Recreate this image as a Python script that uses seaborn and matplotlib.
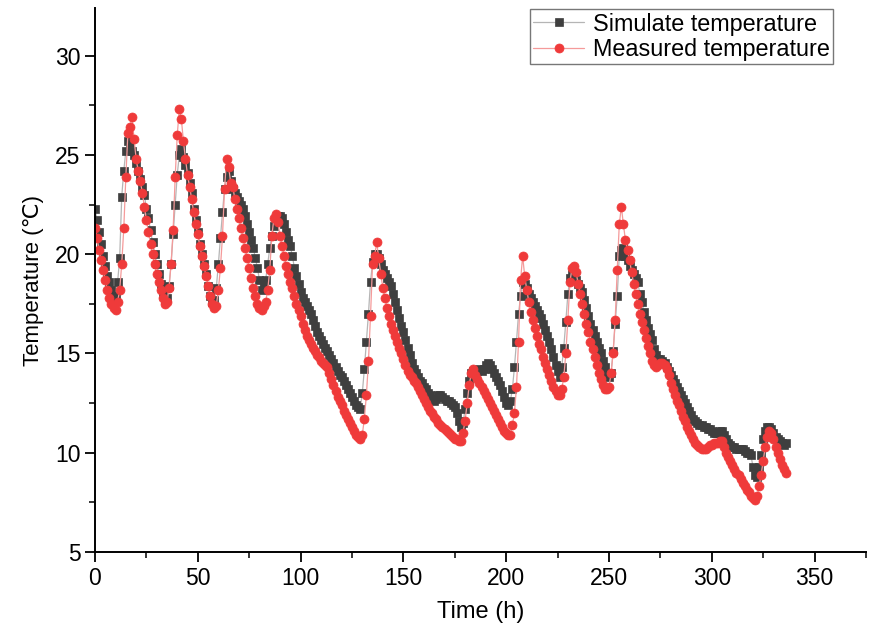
import numpy as np
import pandas as pd
import matplotlib
matplotlib.use("Agg")
import matplotlib.pyplot as plt
import seaborn as sns
from matplotlib.ticker import MultipleLocator

simulated = [
    22.3, 21.7, 21.1, 20.5, 19.9, 19.4, 18.9, 18.6, 18.2, 17.8,
    17.9, 18.6, 19.8, 22.9, 24.2, 25.2, 25.7, 25.6, 25.2, 25.0,
    24.6, 24.2, 23.8, 23.4, 23.0, 22.3, 21.8, 21.2, 20.6, 20.0,
    19.5, 19.0, 18.5, 18.0, 17.7, 17.8, 18.4, 19.5, 21.0, 22.5,
    24.0, 25.0, 25.3, 24.9, 24.5, 24.1, 23.6, 23.1, 22.3, 21.7,
    21.1, 20.5, 20.0, 19.5, 19.0, 18.4, 17.9, 17.6, 17.7, 18.3,
    19.5, 20.8, 22.1, 23.3, 23.9, 24.2, 23.7, 23.3, 23.1, 22.9,
    22.7, 22.5, 22.3, 21.9, 21.5, 21.1, 20.7, 20.3, 19.8, 19.3,
    18.7, 18.2, 18.4, 18.7, 19.5, 20.3, 20.9, 21.4, 21.8, 21.9,
    21.9, 21.8, 21.5, 21.1, 20.7, 20.4, 19.9, 19.3, 18.9, 18.5,
    18.1, 17.8, 17.6, 17.4, 17.2, 17.0, 16.7, 16.4, 16.1, 15.9,
    15.7, 15.5, 15.3, 15.1, 14.9, 14.7, 14.5, 14.3, 14.1, 13.9,
    13.8, 13.6, 13.4, 13.2, 13.0, 12.8, 12.6, 12.4, 12.3, 12.2,
    13.0, 14.2, 15.6, 17.0, 18.6, 19.6, 20.0, 20.0, 19.8, 19.5,
    19.2, 19.0, 18.8, 18.6, 18.4, 18.0, 17.6, 17.2, 16.8, 16.4,
    16.1, 15.7, 15.3, 14.9, 14.5, 14.2, 14.0, 13.8, 13.6, 13.5,
    13.3, 13.2, 13.0, 12.9, 12.7, 12.6, 12.7, 12.9, 12.9, 12.8,
    12.7, 12.6, 12.6, 12.5, 12.4, 12.3, 12.0, 11.6, 11.3, 11.5,
    12.2, 13.0, 13.6, 14.0, 14.1, 14.1, 14.1, 14.2, 14.1, 14.2,
    14.4, 14.5, 14.4, 14.2, 14.0, 13.8, 13.6, 13.4, 13.1, 12.8,
    12.5, 12.4, 12.6, 13.2, 14.3, 15.6, 17.0, 17.9, 18.6, 18.5,
    18.3, 18.0, 17.8, 17.6, 17.4, 17.2, 17.0, 16.8, 16.5, 16.2,
    15.9, 15.6, 15.2, 14.8, 14.4, 14.1, 13.8, 14.3, 15.3, 16.6,
    18.0, 18.8, 19.0, 19.0, 18.7, 18.5, 18.3, 18.1, 17.7, 17.3,
    16.9, 16.5, 16.2, 15.9, 15.6, 15.3, 15.0, 14.6, 14.3, 14.0,
    13.8, 14.0, 15.1, 16.5, 17.9, 19.9, 20.2, 20.3, 19.9, 19.7,
    19.4, 19.2, 19.0, 18.8, 18.6, 18.0, 17.6, 17.1, 16.7, 16.3,
    16.0, 15.7, 15.2, 14.9, 14.7, 14.7, 14.6, 14.5, 14.3, 14.1,
    13.9, 13.7, 13.5, 13.3, 13.1, 12.9, 12.7, 12.5, 12.3, 12.1,
    11.9, 11.7, 11.6, 11.5, 11.4, 11.4, 11.3, 11.3, 11.2, 11.2,
    11.1, 11.0, 11.0, 11.0, 11.1, 11.1, 10.9, 10.7, 10.5, 10.4,
    10.3, 10.3, 10.2, 10.2, 10.2, 10.2, 10.1, 10.0, 10.0, 9.9,
    9.3, 8.9, 8.8, 9.3, 9.9, 10.7, 11.1, 11.3, 11.3, 11.2,
    11.0, 10.8, 10.7, 10.6, 10.5, 10.4, 10.5,
]

measured = [
    21.3, 20.8, 20.2, 19.7, 19.2, 18.7, 18.2, 17.8, 17.5, 17.3,
    17.2, 17.6, 18.2, 19.5, 21.3, 23.9, 26.1, 26.4, 26.9, 25.8,
    24.8, 24.2, 23.7, 23.1, 22.4, 21.7, 21.1, 20.5, 20.0, 19.5,
    19.0, 18.6, 18.2, 17.8, 17.5, 17.6, 18.3, 19.5, 21.2, 23.9,
    26.0, 27.3, 26.8, 25.7, 24.8, 24.0, 23.4, 22.8, 22.1, 21.5,
    21.0, 20.4, 19.9, 19.4, 18.9, 18.4, 17.9, 17.5, 17.3, 17.4,
    18.2, 19.3, 20.9, 23.3, 24.8, 24.4, 23.6, 23.4, 22.8, 22.3,
    21.8, 21.3, 20.8, 20.3, 19.8, 19.3, 18.8, 18.3, 17.9, 17.5,
    17.3, 17.2, 17.4, 17.6, 18.2, 19.2, 20.9, 21.8, 22.0, 21.6,
    20.9, 20.4, 19.9, 19.4, 19.0, 18.6, 18.3, 17.9, 17.5, 17.2,
    16.9, 16.5, 16.2, 15.9, 15.7, 15.5, 15.3, 15.1, 14.9, 14.8,
    14.6, 14.5, 14.4, 14.3, 14.0, 13.7, 13.4, 13.1, 12.8, 12.6,
    12.4, 12.1, 11.9, 11.7, 11.5, 11.3, 11.1, 10.9, 10.8, 10.7,
    10.9, 11.7, 12.9, 14.6, 16.9, 19.5, 19.9, 20.6, 19.8, 19.0,
    18.3, 17.8, 17.3, 16.9, 16.5, 16.2, 15.9, 15.6, 15.3, 15.0,
    14.7, 14.4, 14.1, 13.9, 13.8, 13.6, 13.5, 13.3, 13.1, 12.9,
    12.7, 12.5, 12.3, 12.1, 12.0, 11.8, 11.7, 11.5, 11.4, 11.3,
    11.2, 11.1, 11.0, 10.9, 10.8, 10.7, 10.7, 10.6, 10.6, 11.0,
    11.6, 12.5, 13.4, 14.0, 14.2, 13.9, 13.7, 13.5, 13.3, 13.1,
    12.9, 12.7, 12.5, 12.3, 12.1, 11.9, 11.7, 11.5, 11.3, 11.1,
    11.0, 10.9, 10.9, 11.4, 12.0, 13.3, 15.6, 18.7, 19.9, 18.9,
    18.2, 17.6, 17.1, 16.7, 16.3, 15.9, 15.5, 15.2, 14.8, 14.5,
    14.2, 13.9, 13.6, 13.3, 13.1, 12.9, 12.9, 13.2, 13.8, 15.0,
    16.7, 18.6, 19.3, 19.4, 19.1, 18.5, 18.0, 17.5, 17.0, 16.5,
    16.1, 15.6, 15.2, 14.8, 14.4, 14.0, 13.7, 13.4, 13.2, 13.2,
    13.3, 14.0, 15.0, 16.7, 19.2, 21.5, 22.4, 21.5, 20.7, 20.2,
    19.7, 19.1, 18.5, 18.0, 17.5, 17.0, 16.6, 16.2, 15.8, 15.4,
    15.0, 14.6, 14.4, 14.3, 14.4, 14.5, 14.5, 14.4, 14.2, 13.9,
    13.5, 13.2, 12.9, 12.6, 12.4, 12.1, 11.8, 11.6, 11.3, 11.1,
    10.9, 10.7, 10.5, 10.4, 10.3, 10.2, 10.2, 10.2, 10.3, 10.4,
    10.4, 10.5, 10.5, 10.5, 10.6, 10.6, 10.3, 10.0, 9.8, 9.6,
    9.4, 9.2, 9.0, 8.9, 8.7, 8.5, 8.3, 8.1, 8.0, 7.8,
    7.7, 7.6, 7.8, 8.3, 8.9, 9.6, 10.3, 10.8, 11.1, 11.0,
    10.7, 10.3, 10.0, 9.7, 9.4, 9.2, 9.0,
]

hours_sim = np.arange(len(simulated))
hours_meas = np.arange(len(measured))

x_ticks = [0, 50, 100, 150, 200, 250, 300, 350]
y_ticks = [5, 10, 15, 20, 25, 30]

sns.set_style("ticks")
plt.rcParams['font.family'] = ['Liberation Sans', 'DejaVu Sans']
plt.rcParams['text.color'] = 'black'
plt.rcParams['axes.labelcolor'] = 'black'

fig = plt.figure(figsize=(8.7, 6.24), dpi=100)
ax = fig.add_axes([95/870, 1 - 552/624, (866 - 95)/870, (552 - 8)/624])

df_sim = pd.DataFrame({"Time": hours_sim, "Temp": simulated})
df_meas = pd.DataFrame({"Time": hours_meas, "Temp": measured})

sns.lineplot(data=df_sim, x="Time", y="Temp", ax=ax, color="#b5b5b5", lw=0.9,
             marker="s", markersize=5.6, markerfacecolor="#3f3f3f",
             markeredgecolor="#3f3f3f", markeredgewidth=0.5,
             label="Simulate temperature")
sns.lineplot(data=df_meas, x="Time", y="Temp", ax=ax, color="#f59a9a", lw=0.9,
             marker="o", markersize=6.5, markerfacecolor="#ef3a3a",
             markeredgecolor="#ef3a3a", markeredgewidth=0.5,
             label="Measured temperature")

ax.set_xlim(0, 375)
ax.set_ylim(5, 32.4)
ax.set_xticks(x_ticks)
ax.set_yticks(y_ticks)
ax.xaxis.set_minor_locator(MultipleLocator(25))
ax.yaxis.set_minor_locator(MultipleLocator(2.5))
ax.tick_params(axis="both", which="major", direction="out", length=7, width=1.3,
               labelsize=16.5, color="black", labelcolor="black")
ax.tick_params(axis="both", which="minor", direction="out", length=4, width=1.1,
               color="black")
for s in ["left", "bottom"]:
    ax.spines[s].set_linewidth(1.4)
    ax.spines[s].set_color("black")
sns.despine(ax=ax)

ax.set_xlabel("Time (h)", fontsize=17, labelpad=8)
ax.set_ylabel("Temperature (℃)", fontsize=16, labelpad=8)

leg = ax.legend(loc="upper right", bbox_to_anchor=(833/870, 1 - 9/624),
                bbox_transform=fig.transFigure, borderaxespad=0,
                fontsize=16.8, frameon=True, fancybox=False, handlelength=2.2,
                handletextpad=0.35, borderpad=0.15, labelspacing=0.1)
leg.get_frame().set_edgecolor("#555555")
leg.get_frame().set_linewidth(1.0)

fig.savefig("out.png", dpi=100)
